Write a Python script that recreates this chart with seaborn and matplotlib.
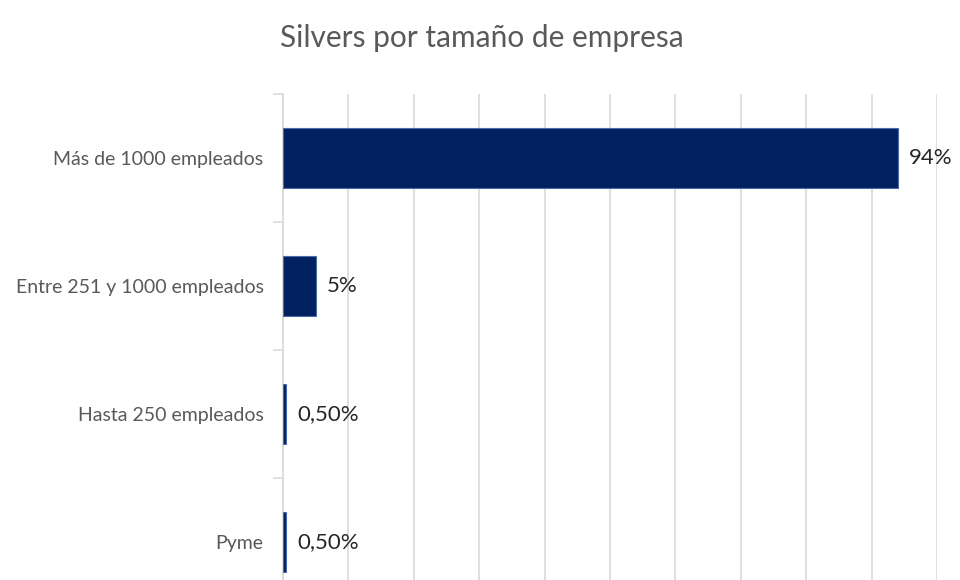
import matplotlib
matplotlib.use("Agg")
import matplotlib.pyplot as plt
import seaborn as sns
import pandas as pd
from matplotlib.ticker import FixedLocator

categories = ["Más de 1000 empleados", "Entre 251 y 1000 empleados", "Hasta 250 empleados", "Pyme"]
values = [94, 5, 0.5, 0.5]
labels = ["94%", "5%", "0,50%", "0,50%"]
title = "Silvers por tamaño de empresa"

df = pd.DataFrame({"cat": categories, "val": values})

sns.set_theme(style="white")
plt.rcParams["font.family"] = ["Lato", "DejaVu Sans"]

W, H = 960, 580
fig = plt.figure(figsize=(W / 100, H / 100), dpi=100)
left, right, top, bottom = 283, 937, 94, 606
ax = fig.add_axes([left / W, 1 - bottom / H, (right - left) / W, (bottom - top) / H])

sns.barplot(data=df, y="cat", x="val", orient="h", color="#002060", width=0.47,
            edgecolor="#4a6aa8", linewidth=0.8, saturation=1, ax=ax, zorder=3)

ax.set_xlim(0, 100)
ax.set_ylim(3.5, -0.5)
ax.set_xticks(range(0, 101, 10))
ax.set_xticklabels([])
ax.tick_params(axis="x", length=0)
ax.grid(axis="x", color="#d9d9d9", linewidth=1.2, zorder=0)
ax.grid(axis="y", visible=False)
ax.set_axisbelow(True)

for s in ["top", "right", "bottom"]:
    ax.spines[s].set_visible(False)
ax.spines["left"].set_color("#d9d9d9")
ax.spines["left"].set_linewidth(1.2)

ax.yaxis.set_minor_locator(FixedLocator([-0.5, 0.5, 1.5, 2.5, 3.5]))
ax.tick_params(axis="y", which="major", length=0, pad=14, labelsize=14, labelcolor="#595959")
ax.tick_params(axis="y", which="minor", length=7, width=1.2, color="#d9d9d9", left=True)

ax.set_xlabel("")
ax.set_ylabel("")

for i, (v, lab) in enumerate(zip(values, labels)):
    ax.annotate(lab, xy=(v, i), xytext=(8, 0), textcoords="offset points",
                va="center", ha="left", fontsize=16, color="#262626")

fig.text(482 / W, 1 - 38 / H, title, ha="center", va="center", fontsize=21.5, color="#595959")

fig.savefig("out.png", dpi=100)
